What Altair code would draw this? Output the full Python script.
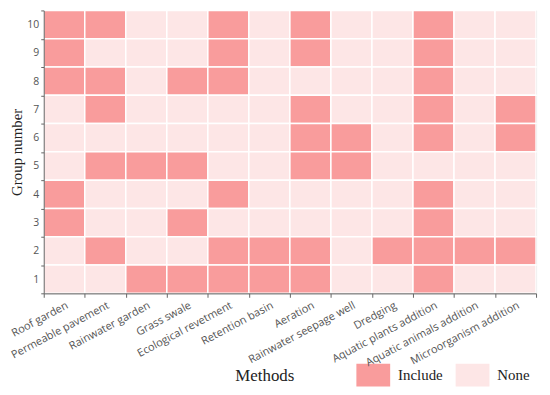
import altair as alt
import pandas as pd

methods = ["Roof garden", "Permeable pavement", "Rainwater garden", "Grass swale",
           "Ecological revetment", "Retention basin", "Aeration", "Rainwater seepage well",
           "Dredging", "Aquatic plants addition", "Aquatic animals addition",
           "Microorganism addition"]
groups = [10, 9, 8, 7, 6, 5, 4, 3, 2, 1]
# 1 = Include, 0 = None (rows follow `groups` order)
group_10 = [1, 1, 0, 0, 1, 0, 1, 0, 0, 1, 0, 0]
group_9 = [1, 0, 0, 0, 1, 0, 1, 0, 0, 1, 0, 0]
group_8 = [1, 1, 0, 1, 1, 0, 0, 0, 0, 1, 0, 0]
group_7 = [0, 1, 0, 0, 0, 0, 1, 0, 0, 1, 0, 1]
group_6 = [0, 0, 0, 0, 0, 0, 1, 1, 0, 1, 0, 1]
group_5 = [0, 1, 1, 1, 0, 0, 1, 1, 0, 0, 0, 0]
group_4 = [1, 0, 0, 0, 1, 0, 0, 0, 0, 1, 0, 0]
group_3 = [1, 0, 0, 1, 0, 0, 0, 0, 0, 1, 0, 0]
group_2 = [0, 1, 0, 0, 1, 1, 1, 0, 1, 1, 1, 1]
group_1 = [0, 0, 1, 1, 1, 1, 1, 0, 0, 1, 0, 0]
matrix = [group_10, group_9, group_8, group_7, group_6, group_5,
          group_4, group_3, group_2, group_1]
status_names = ["Include", "None"]
status_colors = ["#f99c9c", "#fde6e6"]

rows = []
for g, vals in zip(groups, matrix):
    for m, v in zip(methods, vals):
        rows.append({"Method": m, "Group": str(g), "Status": "Include" if v else "None"})
df = pd.DataFrame(rows)

chart = alt.Chart(df).mark_rect(stroke="white", strokeWidth=1.5).encode(
    x=alt.X("Method:N", sort=methods, title=None,
            scale=alt.Scale(paddingInner=0, paddingOuter=0),
            axis=alt.Axis(tickBand="extent", labelAngle=332, labelAlign="right",
                          labelBaseline="top", labelFont="Open Sans", labelFontSize=11,
                          labelColor="#555", domainColor="#666", tickColor="#666",
                          tickSize=4, labelPadding=2)),
    y=alt.Y("Group:N", sort=[str(g) for g in groups], title="Group number",
            scale=alt.Scale(paddingInner=0, paddingOuter=0),
            axis=alt.Axis(tickBand="extent", labelAngle=0, labelFont="Open Sans",
                          labelFontSize=10.5, labelColor="#555", domainColor="#666",
                          tickColor="#666", tickSize=3, labelPadding=2,
                          titleFont="Liberation Serif", titleFontSize=15,
                          titleFontWeight="normal", titleColor="#222", titleX=-19)),
    color=alt.Color("Status:N", scale=alt.Scale(domain=status_names, range=status_colors),
                    legend=alt.Legend(orient="none", legendX=193, legendY=356,
                                      direction="horizontal", titleOrient="left",
                                      title="Methods", titleFont="Liberation Serif",
                                      titleFontSize=17, titleFontWeight="normal",
                                      titleColor="#222", labelFont="Liberation Serif",
                                      labelFontSize=15, labelColor="#222",
                                      symbolType="M-1,-1H1.96V1H-1Z", symbolSize=529,
                                      symbolStrokeWidth=0, symbolOpacity=1,
                                      labelOffset=19, columnPadding=13, titlePadding=62,
                                      padding=0)),
).properties(
    width=496, height=285,
    autosize=alt.AutoSizeParams(type="none"),
    padding={"left": 36, "top": 1, "right": 6, "bottom": 100},
).configure_view(stroke="#bbb", strokeWidth=1)

chart.save("out.html", embed_options={"renderer": "svg", "actions": False})
